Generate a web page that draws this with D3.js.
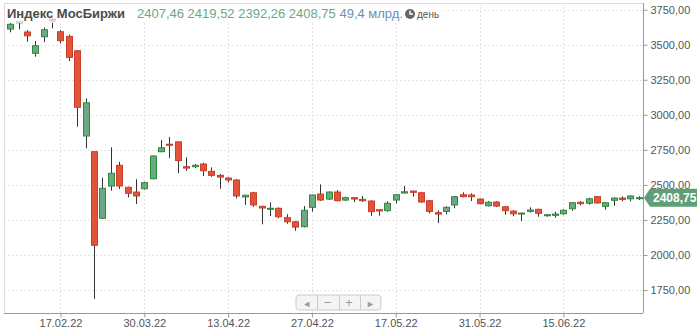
<!DOCTYPE html>
<html lang="ru">
<head>
<meta charset="UTF-8">
<title>Индекс МосБиржи</title>
<script src="https://d3js.org/d3.v7.min.js"></script>
<style>
  body { margin: 0; background: #fff; }
  svg { display: block; font-family: "Liberation Sans", Arial, sans-serif; }
  .grid line { stroke: #e3e3e3; stroke-dasharray: 2,2; }
  .axis text { fill: #555; font-size: 11px; }
  .axis line, .axis path { stroke: #999; }
</style>
</head>
<body>
<div id="chart"></div>
<script>
// trading days (exchange closed 28.02 - 23.03)
const dates = [
  "09.02.22","10.02.22","11.02.22","14.02.22","15.02.22","16.02.22","17.02.22","18.02.22","21.02.22","22.02.22","24.02.22","25.02.22",
  "24.03.22","25.03.22","28.03.22","29.03.22","30.03.22","31.03.22",
  "01.04.22","04.04.22","05.04.22","06.04.22","07.04.22","08.04.22","11.04.22","12.04.22","13.04.22","14.04.22","15.04.22",
  "18.04.22","19.04.22","20.04.22","21.04.22","22.04.22","25.04.22","26.04.22","27.04.22","28.04.22","29.04.22",
  "04.05.22","05.05.22","06.05.22","11.05.22","12.05.22","13.05.22","16.05.22","17.05.22","18.05.22","19.05.22","20.05.22",
  "23.05.22","24.05.22","25.05.22","26.05.22","27.05.22","30.05.22","31.05.22",
  "01.06.22","02.06.22","03.06.22","06.06.22","07.06.22","08.06.22","09.06.22","10.06.22","14.06.22","15.06.22",
  "16.06.22","17.06.22","20.06.22","21.06.22","22.06.22","23.06.22","24.06.22","27.06.22","28.06.22"
];
const opens = [
  3612,3657,3591,3439,3557,3684,3593,3560,3457,2849,2737,2262,
  2492,2640,2483,2449,2473,2544,
  2737,2790,2807,2630,2630,2649,2597,2568,2549,2535,2414,
  2444,2347,2326,2333,2266,2237,2202,2340,2435,2399,
  2449,2392,2409,2397,2385,2323,2316,2392,2442,2456,2444,
  2387,2302,2311,2357,2430,2428,2399,
  2351,2378,2344,2313,2292,2311,2326,2280,2283,2294,
  2330,2376,2369,2416,2347,2390,2406,2401,2407.46
];
const highs = [
  3657,3668,3605,3527,3622,3690,3605,3572,3462,3118,2740,2551,
  2768,2665,2487,2540,2523,2711,
  2820,2842,2810,2697,2649,2658,2625,2578,2556,2542,2430,
  2451,2351,2376,2340,2290,2244,2349,2430,2504,2454,
  2463,2416,2411,2421,2390,2328,2383,2435,2492,2458,2451,
  2392,2319,2347,2421,2447,2440,2404,
  2385,2383,2349,2321,2302,2340,2330,2292,2309,2326,
  2378,2385,2409,2421,2378,2411,2418,2426,2419.52
];
const lows = [
  3589,3610,3522,3415,3520,3617,3510,3384,2915,2761,1686,2257,
  2459,2471,2411,2364,2466,2540,
  2733,2691,2584,2601,2620,2563,2558,2473,2518,2404,2357,
  2344,2219,2278,2262,2223,2173,2197,2309,2385,2392,
  2383,2385,2378,2378,2280,2280,2309,2369,2441,2416,2373,
  2297,2228,2290,2333,2411,2385,2361,
  2347,2342,2287,2276,2242,2302,2273,2273,2266,2287,
  2316,2354,2359,2366,2323,2351,2383,2383,2392.26
];
const closes = [
  3646,3667,3564,3493,3607,3669,3529,3410,3054,3086,2069,2476,
  2583,2492,2440,2421,2516,2706,
  2765,2783,2674,2620,2640,2601,2568,2556,2535,2421,2426,
  2357,2335,2333,2273,2237,2199,2319,2428,2392,2449,
  2387,2409,2399,2387,2309,2314,2369,2430,2451,2447,2378,
  2311,2292,2340,2416,2416,2416,2366,
  2376,2349,2316,2294,2299,2321,2297,2287,2292,2319,
  2373,2366,2401,2371,2373,2406,2397,2421,2408.75
];
const yTicks = [1750, 2000, 2250, 2500, 2750, 3000, 3250, 3500, 3750];
const xTicks = ["17.02.22","30.03.22","13.04.22","27.04.22","17.05.22","31.05.22","15.06.22"];
const headerTitle = "Индекс МосБиржи";
const headerOhlc = ["2407,46","2419,52","2392,26","2408,75"];
const headerVolume = "49,4 млрд.";
const headerPeriod = "день";

const width = 700, height = 332;
const pLeft = 4, pTop = 3, pRight = 643, pBottom = 313;

const candles = dates.map((d, i) => ({ date: d, o: opens[i], h: highs[i], l: lows[i], c: closes[i] }));

const svg = d3.select('#chart').append('svg')
  .attr('width', width)
  .attr('height', height);

const x = d3.scalePoint()
  .domain(dates)
  .range([pLeft + 2, pRight])
  .padding(0.5);

const y = d3.scaleLinear()
  .domain([1586, 3798])
  .range([pBottom, pTop]);

const fmt = v => d3.format('.2f')(v).replace('.', ',');

// plot frame
svg.append('line').attr('x1', pLeft + 0.5).attr('x2', pLeft + 0.5).attr('y1', pTop).attr('y2', pBottom).attr('stroke', '#ddd');
svg.append('line').attr('x1', pLeft).attr('x2', pRight).attr('y1', pTop + 0.5).attr('y2', pTop + 0.5).attr('stroke', '#ddd');

// grid
svg.append('g').attr('class', 'grid')
  .selectAll('line').data(yTicks).join('line')
  .attr('x1', pLeft).attr('x2', pRight)
  .attr('y1', d => Math.round(y(d)) + 0.5).attr('y2', d => Math.round(y(d)) + 0.5);
svg.append('g').attr('class', 'grid')
  .selectAll('line').data(xTicks).join('line')
  .attr('x1', d => Math.round(x(d)) + 0.5).attr('x2', d => Math.round(x(d)) + 0.5)
  .attr('y1', pTop).attr('y2', pBottom);

// axes
svg.append('g').attr('class', 'axis')
  .attr('transform', `translate(${pRight + 0.5},0)`)
  .call(d3.axisRight(y).tickValues(yTicks).tickSize(4).tickPadding(3).tickFormat(fmt))
  .call(g => g.select('.domain').attr('d', `M0,${pTop}V${pBottom}`));

svg.append('g').attr('class', 'axis')
  .attr('transform', `translate(0,${pBottom + 0.5})`)
  .call(d3.axisBottom(x).tickValues(xTicks).tickSize(4).tickPadding(2))
  .call(g => g.select('.domain').attr('d', `M${pLeft},0H${pRight}`));

// candles
const bw = 6;
const c = svg.append('g').selectAll('g').data(candles).join('g')
  .attr('transform', d => `translate(${Math.round(x(d.date))},0)`);

c.append('line')
  .attr('x1', 0.5).attr('x2', 0.5)
  .attr('y1', d => y(d.h)).attr('y2', d => y(d.l))
  .attr('stroke', '#333').attr('stroke-width', 1);

c.append('rect')
  .attr('x', -bw / 2 + 0.5)
  .attr('width', bw)
  .attr('y', d => y(Math.max(d.o, d.c)))
  .attr('height', d => Math.max(1, y(Math.min(d.o, d.c)) - y(Math.max(d.o, d.c))))
  .attr('fill', d => d.c >= d.o ? '#6aa982' : '#e2533a')
  .attr('stroke', d => d.c >= d.o ? '#2f8b3c' : '#c8402a')
  .attr('stroke-width', 1);

// last price marker
const lastClose = closes[closes.length - 1];
const lastY = y(lastClose);
svg.append('path')
  .attr('d', `M${pRight + 1},${lastY} L${pRight + 7},${lastY - 9} H${width - 3} V${lastY + 9} H${pRight + 7} Z`)
  .attr('fill', '#5f9f78');
svg.append('text')
  .attr('x', pRight + 10).attr('y', lastY + 4.5)
  .attr('fill', '#fff').attr('font-size', 12).attr('font-weight', 'bold')
  .text(fmt(lastClose));

// header
svg.append('rect')
  .attr('x', pLeft + 1).attr('y', pTop + 1).attr('width', 440).attr('height', 19)
  .attr('fill', '#fff').attr('opacity', 0.7);
svg.append('text')
  .attr('x', 7).attr('y', 18)
  .attr('font-size', 13).attr('font-weight', 'bold').attr('fill', '#4a4a4a')
  .text(headerTitle);
const ht = svg.append('text').attr('x', 137).attr('y', 18).attr('font-size', 13);
ht.append('tspan').attr('fill', '#6aa984').text(headerOhlc.join(' '));
ht.append('tspan').attr('fill', '#6c8fb3').text(' ' + headerVolume);
const clock = svg.append('g').attr('transform', 'translate(410,14)');
clock.append('circle').attr('r', 5).attr('fill', '#666');
clock.append('path').attr('d', 'M0,-3.5V0H3').attr('stroke', '#fff').attr('stroke-width', 1.4).attr('fill', 'none');
svg.append('text').attr('x', 417).attr('y', 18)
  .attr('font-size', 10).attr('fill', '#555').text(headerPeriod);

// navigator buttons
const nav = svg.append('g').attr('transform', 'translate(296,295)');
const btns = ['◄', '−', '+', '►'];
const bwid = 21.25;
nav.append('rect').attr('width', bwid * 4).attr('height', 15).attr('rx', 3)
  .attr('fill', '#f4f4f4').attr('stroke', '#ccc');
nav.selectAll('line').data(btns.slice(1)).join('line')
  .attr('x1', (d, i) => Math.round(bwid * (i + 1)) + 0.5).attr('x2', (d, i) => Math.round(bwid * (i + 1)) + 0.5)
  .attr('y1', 0).attr('y2', 15).attr('stroke', '#ccc');
nav.selectAll('text').data(btns).join('text')
  .attr('x', (d, i) => bwid * i + bwid / 2).attr('y', 11.5)
  .attr('text-anchor', 'middle')
  .attr('font-size', (d, i) => (i === 0 || i === 3) ? 9 : 13)
  .attr('fill', '#9a9a9a').text(d => d);
</script>
</body>
</html>
